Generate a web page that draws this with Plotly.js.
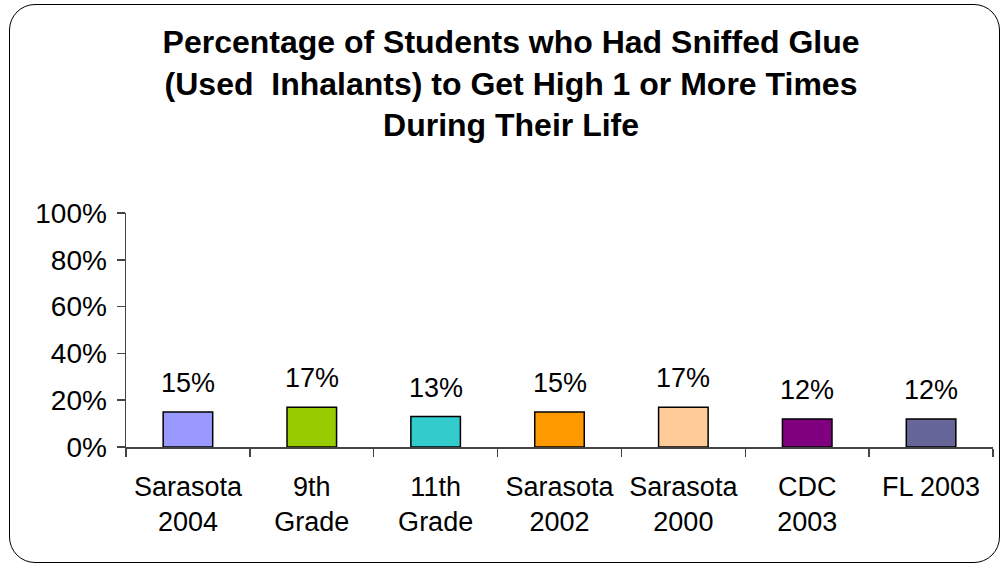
<!DOCTYPE html>
<html>
<head>
<meta charset="utf-8">
<script src="https://cdn.plot.ly/plotly-3.0.1.min.js"></script>
<style>
  html, body { margin: 0; padding: 0; background: #fff; }
  #wrap { position: relative; width: 1002px; height: 565px; overflow: hidden; }
  #chart { width: 1002px; height: 565px; }
  #frame { position: absolute; left: 9px; top: 4px; width: 989px; height: 557px;
           border: 1.5px solid #000; border-radius: 26px; pointer-events: none; }
</style>
</head>
<body>
<div id="wrap">
  <div id="chart"></div>
  <div id="frame"></div>
</div>
<script>
const categories = ["Sarasota<br>2004", "9th<br>Grade", "11th<br>Grade", "Sarasota<br>2002", "Sarasota<br>2000", "CDC<br>2003", "FL 2003"];
const values = [0.15, 0.17, 0.13, 0.15, 0.17, 0.12, 0.12];
const barColors = ["#9999FF", "#99CC00", "#33CCCC", "#FF9900", "#FFCC99", "#800080", "#666699"];
const titleText = "Percentage of Students who Had Sniffed Glue<br>(Used  Inhalants) to Get High 1 or More Times<br>During Their Life";

const font = "Liberation Sans, Arial, sans-serif";

const trace = {
  type: "bar",
  x: categories,
  y: values,
  marker: { color: barColors, line: { color: "#000", width: 1.5 } },
  width: 0.4,
  hoverinfo: "skip"
};

const annotations = categories.map((c, i) => ({
  x: c, y: values[i], xref: "x", yref: "y",
  text: Math.round(values[i] * 100) + "%",
  showarrow: false, yanchor: "bottom", yshift: 12,
  font: { family: font, size: 27, color: "#000" }
}));

const layout = {
  width: 1002, height: 565,
  margin: { l: 126, r: 9, t: 213, b: 118 },
  paper_bgcolor: "#fff", plot_bgcolor: "#fff",
  showlegend: false,
  title: {
    text: titleText,
    x: 0.51, xanchor: "center", xref: "container",
    y: 1 - 53 / 565, yanchor: "top", yref: "container",
    font: { family: font, size: 32, color: "#000", weight: "bold" }
  },
  xaxis: {
    type: "category",
    showline: true, linecolor: "#444", linewidth: 1.5,
    ticks: "outside", tickson: "boundaries", ticklen: 8, tickcolor: "#444", tickwidth: 1.5,
    ticklabelstandoff: 15,
    tickfont: { family: font, size: 27, color: "#000" },
    showgrid: false, zeroline: false
  },
  yaxis: {
    range: [0, 1], dtick: 0.2, tickformat: ".0%",
    showline: true, linecolor: "#444", linewidth: 1.5,
    ticks: "outside", ticklen: 8, tickcolor: "#444", tickwidth: 1.5,
    ticklabelstandoff: 4,
    tickfont: { family: font, size: 28, color: "#000" },
    showgrid: false, zeroline: false
  },
  annotations: annotations
};

Plotly.newPlot("chart", [trace], layout, { displayModeBar: false, staticPlot: true });
</script>
</body>
</html>
